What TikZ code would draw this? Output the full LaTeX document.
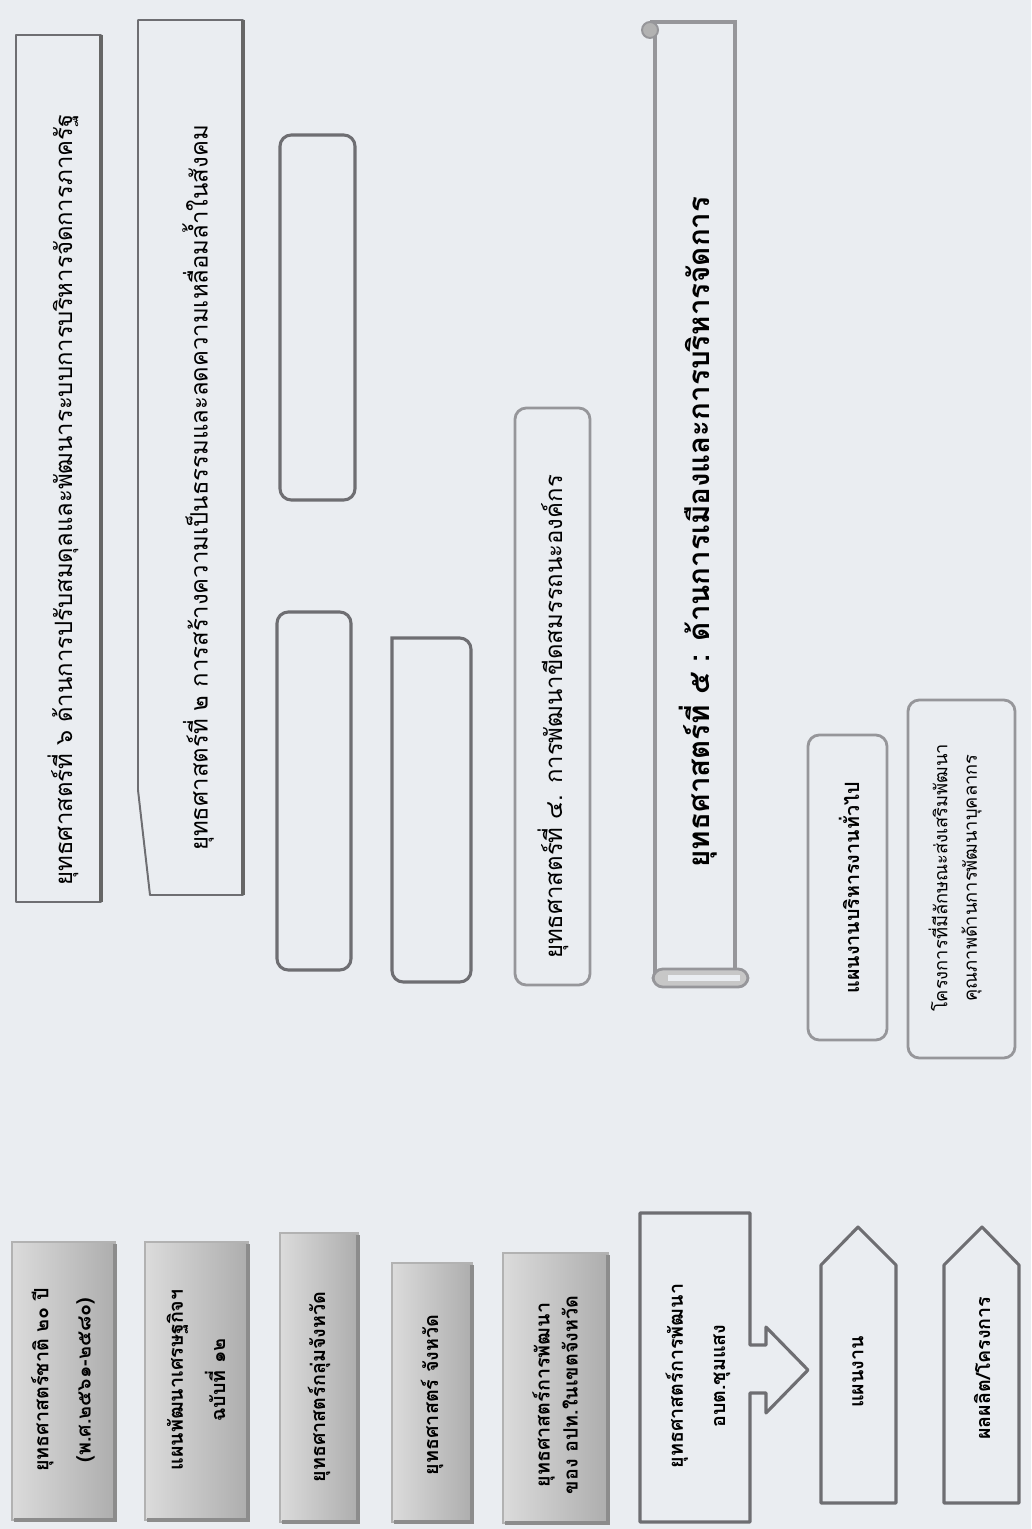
\documentclass[tikz,border=0pt]{standalone}
\usepackage{fontspec}
\newfontfamily\thaifont[Script=Thai]{Loma}
\usetikzlibrary{positioning}

\definecolor{paper}{RGB}{234,237,241}
\definecolor{edgegrey}{RGB}{110,110,114}
\definecolor{softgrey}{RGB}{150,150,154}

\begin{document}
\begin{tikzpicture}[x=0.025cm,y=-0.025cm,
  greybox/.style={draw=black!30,line width=1pt,left color=black!14,right color=black!32},
  greyshadow/.style={draw=black!45,line width=2.6pt},
  framebox/.style={draw=edgegrey,line width=2.2pt,line join=round},
  darkedge/.style={draw=black!60,line width=3.2pt},
  softbox/.style={draw=softgrey,line width=2pt,rounded corners=8pt},
  boldtext/.style={rotate=90,align=center,inner sep=0pt,font=\thaifont\bfseries\fontsize{14}{30}\selectfont},
  thintext/.style={rotate=90,align=center,inner sep=0pt,font=\thaifont\fontsize{17}{24}\selectfont}]

\useasboundingbox (0,0) rectangle (1031,1529);
\fill[paper] (0,0) rectangle (1031,1529);

% left column
\draw[greybox] (12,1242) rectangle (115,1520);
\draw[greyshadow] (115,1244) -- (115,1520) -- (14,1520);
\node[boldtext] (national) at (63,1380) {ยุทธศาสตร์ชาติ ๒๐ ปี\\(พ.ศ.๒๕๖๑-๒๕๘๐)};

\draw[greybox] (145,1242) rectangle (248,1520);
\draw[greyshadow] (248,1244) -- (248,1520) -- (147,1520);
\node[boldtext] (econplan) at (196,1380) {แผนพัฒนาเศรษฐกิจฯ\\ฉบับที่ ๑๒};

\draw[greybox] (280,1233) rectangle (358,1522);
\draw[greyshadow] (358,1235) -- (358,1522) -- (282,1522);
\node[boldtext] (cluster) at (319,1387) {ยุทธศาสตร์กลุ่มจังหวัด};

\draw[greybox] (392,1263) rectangle (472,1522);
\draw[greyshadow] (472,1265) -- (472,1522) -- (394,1522);
\node[boldtext] (province) at (432,1395) {ยุทธศาสตร์ จังหวัด};

\draw[greybox] (503,1253) rectangle (608,1523);
\draw[greyshadow] (608,1255) -- (608,1523) -- (505,1523);
\node[boldtext,font=\thaifont\bfseries\fontsize{14}{20}\selectfont] (local) at (555,1395) {ยุทธศาสตร์การพัฒนา\\ของ อปท.ในเขตจังหวัด};

\draw[framebox] (640,1213) -- (750,1213) -- (750,1345) -- (766,1345) -- (766,1327)
  -- (808,1370) -- (766,1413) -- (766,1393) -- (750,1393) -- (750,1522) -- (640,1522) -- cycle;
\node[boldtext] (tambon) at (698,1376) {ยุทธศาสตร์การพัฒนา\\อบต.ชุมแสง};

\draw[framebox] (821,1503) -- (821,1265) -- (858,1227) -- (896,1265) -- (896,1503) -- cycle;
\node[boldtext] (plan) at (858,1372) {แผนงาน};
\draw[framebox] (944,1503) -- (944,1265) -- (982,1227) -- (1019,1265) -- (1019,1503) -- cycle;
\node[boldtext] (output) at (982,1368) {ผลผลิต/โครงการ};

% strategies
\draw[framebox,line width=1.4pt] (16,35) rectangle (101,902);
\draw[darkedge] (101,35) -- (101,902);
\node[thintext] (strat6) at (63,500) {ยุทธศาสตร์ที่ ๖ ด้านการปรับสมดุลและพัฒนาระบบการบริหารจัดการภาครัฐ};

\draw[framebox,line width=1.4pt] (243,20) -- (138,20) -- (138,790) -- (150,895) -- (243,895) -- cycle;
\draw[darkedge] (243,20) -- (243,895);
\node[thintext] (strat2) at (198,488) {ยุทธศาสตร์ที่ ๒ การสร้างความเป็นธรรมและลดความเหลื่อมล้ำในสังคม};

\draw[framebox,rounded corners=8pt] (280,135) rectangle (355,500);
\draw[framebox,rounded corners=8pt] (277,612) rectangle (351,970);
\draw[framebox,rounded corners=8pt,line cap=rect] (392,638) -- (471,638) -- (471,982) -- (392,982) -- (392,638);

\draw[softbox] (515,408) rectangle (590,985);
\node[thintext] (strat4) at (553,717) {ยุทธศาสตร์ที่ ๔. การพัฒนาขีดสมรรถนะองค์กร};

% scroll
\draw[draw=softgrey,line width=2.2pt] (735,970) -- (735,22) -- (650,22);
\draw[draw=softgrey,line width=2.2pt] (655,30) -- (655,978);
\filldraw[draw=softgrey,fill=black!30,line width=1.4pt] (650,30) circle (8);
\draw[draw=softgrey,fill=black!22,line width=2pt,rounded corners=7pt] (653,969) rectangle (748,987);
\fill[paper] (668,975) rectangle (740,981);
\node[thintext,font=\thaifont\bfseries\fontsize{21}{24}\selectfont] (strat5) at (698,532) {ยุทธศาสตร์ที่ ๕ : ด้านการเมืองและการบริหารจัดการ};

% plans and projects
\draw[softbox] (808,735) rectangle (887,1040);
\node[boldtext] (admin) at (849,888) {แผนงานบริหารงานทั่วไป};
\draw[softbox] (908,700) rectangle (1015,1058);
\node[thintext,font=\thaifont\fontsize{13}{21}\selectfont] (project) at (955,878) {โครงการที่มีลักษณะส่งเสริมพัฒนา\\คุณภาพด้านการพัฒนาบุคลากร};

\end{tikzpicture}
\end{document}
